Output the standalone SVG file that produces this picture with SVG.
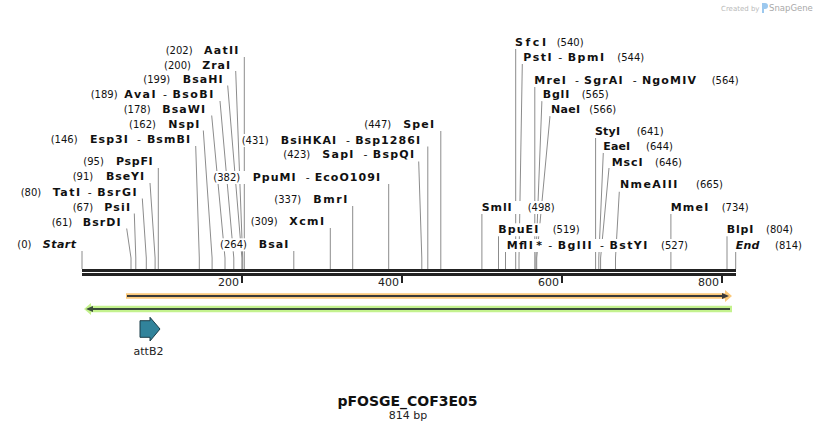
<svg xmlns="http://www.w3.org/2000/svg" width="818" height="432" viewBox="0 0 818 432">
<style>
text{font-family:"DejaVu Sans",Verdana,sans-serif;fill:#111}
.n{font-size:10px}
.b{font-size:11px;font-weight:bold}
.s{font-weight:normal}
.i{font-style:italic}
.bg{fill:#fff}
.cut{stroke:#8c8c8c;stroke-width:1;fill:none}
.tick{fill:#222}
.tl{font-size:11px;fill:#222}
</style>
<rect width="818" height="432" fill="#fff"/>
<g id="watermark">
<text x="721" y="11" style="font-size:7px;fill:#b9b9b9">Created by</text>
<path d="M762,3 h3 a3,3 0 0 1 0,6 h-1 v4 h-2 z" fill="#9cc8ee"/>
<text x="769" y="11" style="font-size:8.5px;fill:#a9a9a9">SnapGene</text>
</g>
<g id="connectors">
<path class="cut" d="M244.3,57V269"/>
<path class="cut" d="M235.7,71L242.7,258V269"/>
<path class="cut" d="M227.7,85.5L241.9,258V269"/>
<path class="cut" d="M220,101L233.8,258V269"/>
<path class="cut" d="M211.7,115.5L225,258V269"/>
<path class="cut" d="M203.3,130.5L212.1,258V269"/>
<path class="cut" d="M195.7,146L199.3,258V269"/>
<path class="cut" d="M158.3,168V269"/>
<path class="cut" d="M150,183L155.1,258V269"/>
<path class="cut" d="M142.3,198.5L146.3,258V269"/>
<path class="cut" d="M134.3,213.5L135.8,258V269"/>
<path class="cut" d="M126.7,228.5L131,258V269"/>
<path class="cut" d="M82,251V269"/>
<path class="cut" d="M440.8,131V269"/>
<path class="cut" d="M427.8,146.5V269"/>
<path class="cut" d="M418.7,161.5L421.8,258V269"/>
<path class="cut" d="M388.7,184V269"/>
<path class="cut" d="M352.7,206V269"/>
<path class="cut" d="M330.3,228V269"/>
<path class="cut" d="M293.8,251V269"/>
<path class="cut" d="M515.7,48.5V269"/>
<path class="cut" d="M522.3,64L519,258V269"/>
<path class="cut" d="M534.8,86.7V269"/>
<path class="cut" d="M541.9,101L535.9,258V269"/>
<path class="cut" d="M550,116L536.7,258V269"/>
<path class="cut" d="M595.6,138V269"/>
<path class="cut" d="M603.3,152.5L598.8,258V269"/>
<path class="cut" d="M609,168L600.6,258V269"/>
<path class="cut" d="M619.3,191.7L615.5,258V269"/>
<path class="cut" d="M481.9,213.5V269"/>
<path class="cut" d="M670.9,213.5V269"/>
<path class="cut" d="M498.5,236V269"/>
<path class="cut" d="M505.5,252V269"/>
<path class="cut" d="M727,236V269"/>
<path class="cut" d="M735.7,252V269"/>
</g>
<g id="l-AatII"><rect class="bg" x="164.7" y="44" width="75" height="13"/><text class="n" x="165.7" y="54">(202)</text><text class="b" x="238.3" y="54" text-anchor="end" textLength="34.3" lengthAdjust="spacing">AatII</text></g>
<g id="l-ZraI"><rect class="bg" x="163" y="58.5" width="68" height="13"/><text class="n" x="164" y="68.5">(200)</text><text class="b" x="230" y="68.5" text-anchor="end" textLength="27.7" lengthAdjust="spacing">ZraI</text></g>
<g id="l-BsaHI"><rect class="bg" x="142.3" y="73" width="81.4" height="13"/><text class="n" x="143.3" y="83">(199)</text><text class="b" x="222.7" y="83" text-anchor="end" textLength="40" lengthAdjust="spacing">BsaHI</text></g>
<g id="l-AvaI"><rect class="bg" x="89.7" y="88.3" width="124.6" height="13"/><text class="n" x="90.7" y="98.3">(189)</text><text class="b" x="213.3" y="98.3" text-anchor="end" textLength="89" lengthAdjust="spacing">AvaI<tspan class="s" dx="6">-</tspan><tspan dx="4">BsoBI</tspan></text></g>
<g id="l-BsaWI"><rect class="bg" x="122.7" y="103" width="83.3" height="13"/><text class="n" x="123.7" y="113">(178)</text><text class="b" x="205" y="113" text-anchor="end" textLength="42.7" lengthAdjust="spacing">BsaWI</text></g>
<g id="l-NspI"><rect class="bg" x="128" y="118.3" width="72.3" height="13"/><text class="n" x="129" y="128.3">(162)</text><text class="b" x="199.3" y="128.3" text-anchor="end" textLength="31" lengthAdjust="spacing">NspI</text></g>
<g id="l-Esp3I"><rect class="bg" x="49.7" y="133.3" width="141.3" height="13"/><text class="n" x="50.7" y="143.3">(146)</text><text class="b" x="190" y="143.3" text-anchor="end" textLength="100" lengthAdjust="spacing">Esp3I<tspan class="s" dx="8">-</tspan><tspan dx="5">BsmBI</tspan></text></g>
<g id="l-PspFI"><rect class="bg" x="82.3" y="155" width="71.4" height="13"/><text class="n" x="83.3" y="165">(95)</text><text class="b" x="152.7" y="165" text-anchor="end" textLength="36.7" lengthAdjust="spacing">PspFI</text></g>
<g id="l-BseYI"><rect class="bg" x="71.7" y="170" width="73.3" height="13"/><text class="n" x="72.7" y="180">(91)</text><text class="b" x="144" y="180" text-anchor="end" textLength="38" lengthAdjust="spacing">BseYI</text></g>
<g id="l-TatI"><rect class="bg" x="19.7" y="185.7" width="118" height="13"/><text class="n" x="20.7" y="195.7">(80)</text><text class="b" x="136.7" y="195.7" text-anchor="end" textLength="84" lengthAdjust="spacing">TatI<tspan class="s" dx="6">-</tspan><tspan dx="4">BsrGI</tspan></text></g>
<g id="l-PsiI"><rect class="bg" x="71.7" y="201" width="59.3" height="13"/><text class="n" x="72.7" y="211">(67)</text><text class="b" x="130" y="211" text-anchor="end" textLength="25.7" lengthAdjust="spacing">PsiI</text></g>
<g id="l-BsrDI"><rect class="bg" x="50.7" y="216" width="71" height="13"/><text class="n" x="51.7" y="226">(61)</text><text class="b" x="120.7" y="226" text-anchor="end" textLength="38" lengthAdjust="spacing">BsrDI</text></g>
<g id="l-Start"><rect class="bg" x="16.3" y="238.3" width="60.7" height="13"/><text class="n" x="17.3" y="248.3">(0)</text><text class="b i" x="76" y="248.3" text-anchor="end" textLength="33.3" lengthAdjust="spacing">Start</text></g>
<g id="l-SpeI"><rect class="bg" x="363.3" y="118.3" width="71.7" height="13"/><text class="n" x="364.3" y="128.3">(447)</text><text class="b" x="434" y="128.3" text-anchor="end" textLength="30.7" lengthAdjust="spacing">SpeI</text></g>
<g id="l-BsiHKAI"><rect class="bg" x="240.7" y="134" width="180.3" height="13"/><text class="n" x="241.7" y="144">(431)</text><text class="b" x="420" y="144" text-anchor="end" textLength="139.3" lengthAdjust="spacing">BsiHKAI<tspan class="s" dx="9">-</tspan><tspan dx="4">Bsp1286I</tspan></text></g>
<g id="l-SapI"><rect class="bg" x="282.3" y="148.3" width="132.7" height="13"/><text class="n" x="283.3" y="158.3">(423)</text><text class="b" x="414" y="158.3" text-anchor="end" textLength="91.7" lengthAdjust="spacing">SapI<tspan class="s" dx="9">-</tspan><tspan dx="4">BspQI</tspan></text></g>
<g id="l-PpuMI"><rect class="bg" x="212.3" y="171" width="168.7" height="13"/><text class="n" x="213.3" y="181">(382)</text><text class="b" x="380" y="181" text-anchor="end" textLength="127.3" lengthAdjust="spacing">PpuMI<tspan class="s" dx="9">-</tspan><tspan dx="4">EcoO109I</tspan></text></g>
<g id="l-BmrI"><rect class="bg" x="273.3" y="193.3" width="75" height="13"/><text class="n" x="274.3" y="203.3">(337)</text><text class="b" x="347.3" y="203.3" text-anchor="end" textLength="34" lengthAdjust="spacing">BmrI</text></g>
<g id="l-XcmI"><rect class="bg" x="249.7" y="215" width="75.3" height="13"/><text class="n" x="250.7" y="225">(309)</text><text class="b" x="324" y="225" text-anchor="end" textLength="34.7" lengthAdjust="spacing">XcmI</text></g>
<g id="l-BsaI"><rect class="bg" x="219" y="238.3" width="70.3" height="13"/><text class="n" x="220" y="248.3">(264)</text><text class="b" x="288.3" y="248.3" text-anchor="end" textLength="29.6" lengthAdjust="spacing">BsaI</text></g>
<g id="l-SfcI"><rect class="bg" x="514" y="36" width="73.7" height="13"/><text class="b" x="515" y="46" textLength="31" lengthAdjust="spacing">SfcI</text><text class="n" x="556.7" y="46">(540)</text></g>
<g id="l-PstI"><rect class="bg" x="522.3" y="51" width="125.4" height="13"/><text class="b" x="523.3" y="61" textLength="80.7" lengthAdjust="spacing">PstI<tspan class="s" dx="5">-</tspan><tspan dx="4">BpmI</tspan></text><text class="n" x="617.3" y="61">(544)</text></g>
<g id="l-MreI"><rect class="bg" x="533.3" y="74" width="208.4" height="13"/><text class="b" x="534.3" y="84" textLength="161.7" lengthAdjust="spacing">MreI<tspan class="s" dx="8">-</tspan><tspan dx="4">SgrAI</tspan><tspan class="s" dx="9">-</tspan><tspan dx="4">NgoMIV</tspan></text><text class="n" x="711.7" y="84">(564)</text></g>
<g id="l-BglI"><rect class="bg" x="541.7" y="88.3" width="70" height="13"/><text class="b" x="542.7" y="98.3" textLength="26.6" lengthAdjust="spacing">BglI</text><text class="n" x="581.7" y="98.3">(565)</text></g>
<g id="l-NaeI"><rect class="bg" x="550" y="103.3" width="75" height="13"/><text class="b" x="551" y="113.3" textLength="29" lengthAdjust="spacing">NaeI</text><text class="n" x="589.3" y="113.3">(566)</text></g>
<g id="l-StyI"><rect class="bg" x="594" y="125" width="73.7" height="13"/><text class="b" x="595" y="135" textLength="25" lengthAdjust="spacing">StyI</text><text class="n" x="636.7" y="135">(641)</text></g>
<g id="l-EaeI"><rect class="bg" x="602.3" y="140" width="74.7" height="13"/><text class="b" x="603.3" y="150" textLength="26.7" lengthAdjust="spacing">EaeI</text><text class="n" x="646" y="150">(644)</text></g>
<g id="l-MscI"><rect class="bg" x="610.7" y="156" width="75.3" height="13"/><text class="b" x="611.7" y="166" textLength="31" lengthAdjust="spacing">MscI</text><text class="n" x="655" y="166">(646)</text></g>
<g id="l-NmeAIII"><rect class="bg" x="619" y="178.3" width="107" height="13"/><text class="b" x="620" y="188.3" textLength="57.3" lengthAdjust="spacing">NmeAIII</text><text class="n" x="696" y="188.3">(665)</text></g>
<g id="l-SmlI"><rect class="bg" x="480.7" y="201" width="77" height="13"/><text class="b" x="481.7" y="211" textLength="30" lengthAdjust="spacing">SmlI</text><text class="n" x="527.7" y="211">(498)</text></g>
<g id="l-MmeI"><rect class="bg" x="669.7" y="201" width="82" height="13"/><text class="b" x="670.7" y="211" textLength="37.6" lengthAdjust="spacing">MmeI</text><text class="n" x="721.7" y="211">(734)</text></g>
<g id="l-BpuEI"><rect class="bg" x="497.3" y="223.3" width="85.4" height="13"/><text class="b" x="498.3" y="233.3" textLength="40" lengthAdjust="spacing">BpuEI</text><text class="n" x="552.7" y="233.3">(519)</text></g>
<g id="l-MflI"><rect class="bg" x="505.7" y="239" width="185.3" height="13"/><text class="b" x="506.7" y="249" textLength="140.6" lengthAdjust="spacing">MflI<tspan dx="2">*</tspan><tspan class="s" dx="5">-</tspan><tspan dx="4">BglII</tspan><tspan class="s" dx="7">-</tspan><tspan dx="4">BstYI</tspan></text><text class="n" x="661" y="249">(527)</text></g>
<g id="l-BlpI"><rect class="bg" x="725.7" y="223.3" width="70.3" height="13"/><text class="b" x="726.7" y="233.3" textLength="26.6" lengthAdjust="spacing">BlpI</text><text class="n" x="766" y="233.3">(804)</text></g>
<g id="l-End"><rect class="bg" x="734.7" y="239" width="69.6" height="13"/><text class="b i" x="735.7" y="249" textLength="23.6" lengthAdjust="spacing">End</text><text class="n" x="775" y="249">(814)</text></g>
<g id="backbone">
<rect x="82" y="269" width="654" height="3" fill="#222"/>
<rect x="82" y="273" width="654" height="3" fill="#222"/>
<rect class="tick" x="241" y="276" width="2" height="7"/>
<rect class="tick" x="401" y="276" width="2" height="7"/>
<rect class="tick" x="561" y="276" width="2" height="7"/>
<rect class="tick" x="721" y="276" width="2" height="7"/>
<text class="tl" x="239" y="286" text-anchor="end">200</text>
<text class="tl" x="399" y="286" text-anchor="end">400</text>
<text class="tl" x="559" y="286" text-anchor="end">600</text>
<text class="tl" x="719" y="286" text-anchor="end">800</text>
</g>
<g id="feature-orange">
<polygon points="126,293.3 725,293.3 725,290 732,296 725,302 725,298.7 126,298.7" fill="#fbc97b"/>
<line x1="127" y1="296" x2="724" y2="296" stroke="#3a3a3a" stroke-width="2"/>
<polygon points="722,293 729,296 722,299" fill="#3a3a3a"/>
</g>
<g id="feature-green">
<polygon points="84,309 91,303 91,305.7 732,305.7 732,312.3 91,312.3 91,315" fill="#c4f28e"/>
<line x1="92" y1="309" x2="730" y2="309" stroke="#3a4a3a" stroke-width="2"/>
<polygon points="86,309 93,306 93,312" fill="#3a4a3a"/>
</g>
<g id="attB2">
<polygon points="140,320.7 150,320.7 150,317.3 160,329 150,341 150,337.3 140,337.3" fill="#31839b" stroke="#1b3d48" stroke-width="1"/>
<text x="148.5" y="355" text-anchor="middle" style="font-size:11px;fill:#222">attB2</text>
</g>
<g id="title">
<text x="407.5" y="406" text-anchor="middle" style="font-size:14px;font-weight:bold">pFOSGE_COF3E05</text>
<text x="408" y="419.3" text-anchor="middle" style="font-size:11px;fill:#222">814 bp</text>
</g>
</svg>
